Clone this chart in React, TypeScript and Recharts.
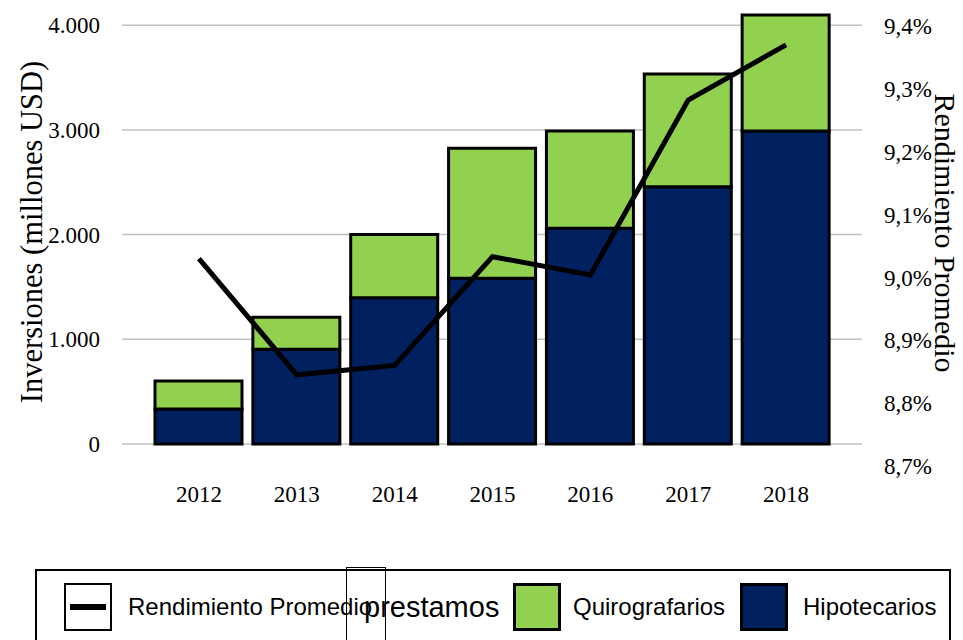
import React from 'react';
import { ComposedChart, Bar, Line, XAxis, YAxis, CartesianGrid } from 'recharts';

// Inversiones por año (millones USD) y rendimiento promedio (%)
const years = ['2012', '2013', '2014', '2015', '2016', '2017', '2018'];
const hipotecarios = [334, 904, 1397, 1583, 2060, 2458, 2990];
const quirografarios = [268, 306, 603, 1241, 930, 1076, 1107];
const rendimiento = [9.03, 8.845, 8.86, 9.033, 9.004, 9.282, 9.37];

const leftTicks = [0, 1000, 2000, 3000, 4000];
const rightTicks = [8.7, 8.8, 8.9, 9.0, 9.1, 9.2, 9.3, 9.4];

const NAVY = '#002060';
const GREEN = '#92D050';
const SERIF = '"Liberation Serif", "Times New Roman", serif';
const SANS = '"Liberation Sans", Arial, sans-serif';

const data = years.map((year, i) => ({
  year,
  hipotecarios: hipotecarios[i],
  quirografarios: quirografarios[i],
  rendimiento: rendimiento[i],
}));

const fmtMiles = (v: number) => (v === 0 ? '0' : `${v / 1000}.000`);
const fmtPct = (v: number) => `${v.toFixed(1).replace('.', ',')}%`;

const tickStyle = { fill: '#000', fontFamily: SERIF, fontSize: 23 };

const Swatch = ({ left, fill }: { left: number; fill: string }) => (
  <div
    style={{
      position: 'absolute', left, top: 583, width: 42, height: 42,
      background: fill, border: '3px solid #000',
    }}
  />
);

const LegendText = ({ left, size, children }: { left: number; size: number; children: React.ReactNode }) => (
  <div
    style={{
      position: 'absolute', left, top: 587, height: 40, lineHeight: '40px',
      fontFamily: SANS, fontSize: size, color: '#000', whiteSpace: 'nowrap',
    }}
  >
    {children}
  </div>
);

export default function App() {
  return (
    <div style={{ position: 'fixed', left: 0, top: 0, width: 963, height: 640, overflow: 'hidden', background: '#fff' }}>
      <ComposedChart
        width={963}
        height={640}
        data={data}
        margin={{ top: 10, right: 0, bottom: 134, left: 0 }}
        barSize={87}
      >
        <CartesianGrid yAxisId="left" vertical={false} syncWithTicks stroke="#c0c0c0" strokeWidth={1.5} />
        <XAxis
          dataKey="year"
          axisLine={false}
          tickLine={false}
          tickSize={0}
          tickMargin={20}
          height={40}
          padding={{ left: 28, right: 27 }}
          tick={tickStyle}
        />
        <YAxis
          yAxisId="left"
          width={122}
          domain={[-210.1, 4145.2]}
          ticks={leftTicks}
          tickFormatter={fmtMiles}
          axisLine={false}
          tickLine={false}
          tickSize={0}
          tickMargin={22}
          tick={tickStyle}
          allowDataOverflow
        />
        <YAxis
          yAxisId="right"
          orientation="right"
          width={101}
          domain={[8.7, 9.4254]}
          ticks={rightTicks}
          tickFormatter={fmtPct}
          axisLine={false}
          tickLine={false}
          tickSize={0}
          tickMargin={22}
          tick={{ ...tickStyle, textAnchor: 'start' }}
          allowDataOverflow
        />
        <Bar yAxisId="left" dataKey="hipotecarios" stackId="a" fill={NAVY} stroke="#000" strokeWidth={3} isAnimationActive={false} />
        <Bar yAxisId="left" dataKey="quirografarios" stackId="a" fill={GREEN} stroke="#000" strokeWidth={3} isAnimationActive={false} />
        <Line
          yAxisId="right"
          dataKey="rendimiento"
          type="linear"
          stroke="#000"
          strokeWidth={5}
          dot={false}
          activeDot={false}
          isAnimationActive={false}
        />
      </ComposedChart>

      {/* axis titles */}
      <div
        style={{
          position: 'absolute', left: 32 - 220, top: 232 - 20, width: 440, height: 40, lineHeight: '40px',
          textAlign: 'center', fontFamily: SERIF, fontSize: 30.5, color: '#000',
          transform: 'rotate(-90deg)', whiteSpace: 'nowrap',
        }}
      >
        Inversiones (millones USD)
      </div>
      <div
        style={{
          position: 'absolute', left: 945 - 220, top: 233 - 20, width: 440, height: 40, lineHeight: '40px',
          textAlign: 'center', fontFamily: SERIF, fontSize: 30, color: '#000',
          transform: 'rotate(90deg)', whiteSpace: 'nowrap',
        }}
      >
        Rendimiento Promedio
      </div>

      {/* legend */}
      <div style={{ position: 'absolute', left: 35, top: 569, width: 912, height: 120, border: '2px solid #000' }} />
      <div style={{ position: 'absolute', left: 64, top: 583, width: 44, height: 44, border: '2px solid #000', background: '#fff' }}>
        <div style={{ position: 'absolute', left: 4, right: 4, top: 19, height: 6, background: '#000' }} />
      </div>
      <LegendText left={128} size={24}>Rendimiento Promedio</LegendText>
      <div style={{ position: 'absolute', left: 346, top: 567, width: 38, height: 120, border: '1.5px solid #000' }} />
      <LegendText left={364} size={29}>prestamos</LegendText>
      <Swatch left={513} fill={GREEN} />
      <LegendText left={573} size={24}>Quirografarios</LegendText>
      <Swatch left={740} fill={NAVY} />
      <LegendText left={803} size={24}>Hipotecarios</LegendText>
    </div>
  );
}
